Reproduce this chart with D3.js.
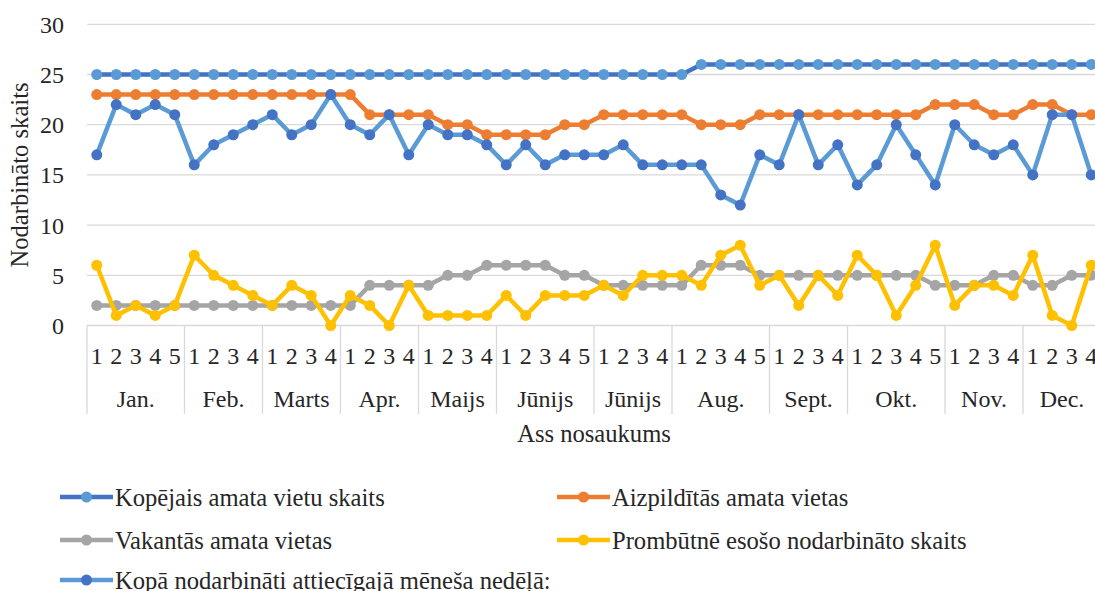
<!DOCTYPE html>
<html>
<head>
<meta charset="utf-8">
<script src="https://cdn.jsdelivr.net/npm/d3@7"></script>
<style>
  body { margin: 0; background: #fff; overflow: hidden; }
</style>
</head>
<body>
<div id="chart"></div>
<script>
// months and how many weeks each one has on the axis
var months = ["Jan.", "Feb.", "Marts", "Apr.", "Maijs", "Jūnijs", "Jūnijs", "Aug.", "Sept.", "Okt.", "Nov.", "Dec."];
var weeksPerMonth = [5, 4, 4, 4, 4, 5, 4, 5, 4, 5, 4, 4];
var yTicks = [0, 5, 10, 15, 20, 25, 30];

var seriesNames = [
    "Kopējais amata vietu skaits",
    "Aizpildītās amata vietas",
    "Vakantās amata vietas",
    "Prombūtnē esošo nodarbināto skaits",
    "Kopā nodarbināti attiecīgajā mēneša nedēļā:"
];

var kopejais = [25,25,25,25,25, 25,25,25,25, 25,25,25,25, 25,25,25,25, 25,25,25,25, 25,25,25,25,25, 25,25,25,25,
                25,26,26,26,26, 26,26,26,26, 26,26,26,26,26, 26,26,26,26, 26,26,26,26];
var aizpilditas = [23,23,23,23,23, 23,23,23,23, 23,23,23,23, 23,21,21,21, 21,20,20,19, 19,19,19,20,20, 21,21,21,21,
                   21,20,20,20,21, 21,21,21,21, 21,21,21,21,22, 22,22,21,21, 22,22,21,21];
var vakantas = [2,2,2,2,2, 2,2,2,2, 2,2,2,2, 2,4,4,4, 4,5,5,6, 6,6,6,5,5, 4,4,4,4,
                4,6,6,6,5, 5,5,5,5, 5,5,5,5,4, 4,4,5,5, 4,4,5,5];
var prombutne = [6,1,2,1,2, 7,5,4,3, 2,4,3,0, 3,2,0,4, 1,1,1,1, 3,1,3,3,3, 4,3,5,5,
                 5,4,7,8,4, 5,2,5,3, 7,5,1,4,8, 2,4,4,3, 7,1,0,6];
var kopaNodarbinati = [17,22,21,22,21, 16,18,19,20, 21,19,20,23, 20,19,21,17, 20,19,19,18, 16,18,16,17,17, 17,18,16,16,
                       16,16,13,12,17, 16,21,16,18, 14,16,20,17,14, 20,18,17,18, 15,21,21,15];

var lineColors   = ["#4472C4", "#ED7D31", "#A5A5A5", "#FFC000", "#5B9BD5"];
var markerColors = ["#5B9BD5", "#ED7D31", "#A5A5A5", "#FFC000", "#4472C4"];

var allSeries = [kopejais, aizpilditas, vakantas, prombutne, kopaNodarbinati];

var fontFamily = "'Liberation Serif', 'Times New Roman', 'DejaVu Serif', serif";
var fontSize = "24px";
var legendFontSize = "24.6px";

// week labels built from the month list
var weeks = [];
weeksPerMonth.forEach(function(n, m){
    for (var w = 1; w <= n; w++) weeks.push({month: m, week: w});
});

var width = 1095, height = 591;
var plotLeft = 87, plotTop = 24.3, plotBottom = 325.5;
var band = 19.5;

var svg = d3.select("#chart").append("svg")
    .attr("width", width)
    .attr("height", height)
    .attr("font-family", fontFamily)
    .style("font-family", fontFamily);

var x = d3.scaleBand()
    .domain(d3.range(weeks.length))
    .range([plotLeft, plotLeft + band * weeks.length])
    .paddingInner(0).paddingOuter(0);

var y = d3.scaleLinear()
    .domain([0, 30])
    .range([plotBottom, plotTop]);

// gridlines
svg.append("g").selectAll("line").data(yTicks).enter().append("line")
    .attr("x1", plotLeft).attr("x2", width)
    .attr("y1", function(d){ return y(d); })
    .attr("y2", function(d){ return y(d); })
    .attr("stroke", "#D9D9D9")
    .attr("stroke-width", 1.3);

// y tick labels
svg.append("g").selectAll("text").data(yTicks).enter().append("text")
    .attr("x", 64)
    .attr("y", function(d){ return y(d); })
    .attr("dy", "0.35em")
    .attr("text-anchor", "end")
    .attr("fill", "#262626")
    .style("font-size", fontSize)
    .text(function(d){ return d; });

// y axis title
svg.append("text")
    .attr("transform", "translate(28," + 175 + ") rotate(-90)")
    .attr("text-anchor", "middle")
    .attr("fill", "#262626")
    .style("font-size", legendFontSize)
    .text("Nodarbināto skaits");

// month separators (multi-level category axis)
var starts = [0];
weeksPerMonth.forEach(function(n, i){ starts.push(starts[i] + n); });
svg.append("g").selectAll("line").data(starts).enter().append("line")
    .attr("x1", function(d){ return plotLeft + d * band; })
    .attr("x2", function(d){ return plotLeft + d * band; })
    .attr("y1", plotBottom)
    .attr("y2", 414)
    .attr("stroke", "#D9D9D9")
    .attr("stroke-width", 1.3);

// week numbers
svg.append("g").selectAll("text").data(weeks).enter().append("text")
    .attr("x", function(d, i){ return x(i) + x.bandwidth() / 2; })
    .attr("y", 356)
    .attr("dy", "0.35em")
    .attr("text-anchor", "middle")
    .attr("fill", "#262626")
    .style("font-size", fontSize)
    .text(function(d){ return d.week; });

// month names
svg.append("g").selectAll("text").data(months).enter().append("text")
    .attr("x", function(d, i){ return plotLeft + (starts[i] + weeksPerMonth[i] / 2) * band; })
    .attr("y", 399)
    .attr("dy", "0.35em")
    .attr("text-anchor", "middle")
    .attr("fill", "#262626")
    .style("font-size", fontSize)
    .text(function(d){ return d; });

// x axis title
svg.append("text")
    .attr("x", 594)
    .attr("y", 433)
    .attr("dy", "0.35em")
    .attr("text-anchor", "middle")
    .attr("fill", "#262626")
    .style("font-size", legendFontSize)
    .text("Ass nosaukums");

// lines and markers
var line = d3.line()
    .x(function(d, i){ return x(i) + x.bandwidth() / 2; })
    .y(function(d){ return y(d); });

allSeries.forEach(function(values, s){
    var g = svg.append("g");
    g.append("path")
        .datum(values)
        .attr("d", line)
        .attr("fill", "none")
        .attr("stroke", lineColors[s])
        .attr("stroke-width", 4.5)
        .attr("stroke-linejoin", "round");
    g.selectAll("circle").data(values).enter().append("circle")
        .attr("cx", function(d, i){ return x(i) + x.bandwidth() / 2; })
        .attr("cy", function(d){ return y(d); })
        .attr("r", 5.5)
        .attr("fill", markerColors[s]);
});

// legend
var legendPos = [
    {x: 60, y: 497}, {x: 557, y: 497},
    {x: 60, y: 540}, {x: 557, y: 540},
    {x: 60, y: 580}
];
var legend = svg.append("g").selectAll("g").data(seriesNames).enter().append("g")
    .attr("transform", function(d, i){ return "translate(" + legendPos[i].x + "," + legendPos[i].y + ")"; });
legend.append("line")
    .attr("x1", 0).attr("x2", 53)
    .attr("stroke", function(d, i){ return lineColors[i]; })
    .attr("stroke-width", 4.5);
legend.append("circle")
    .attr("cx", 26.5).attr("r", 5.5)
    .attr("fill", function(d, i){ return markerColors[i]; });
legend.append("text")
    .attr("x", 55)
    .attr("dy", "0.35em")
    .attr("fill", "#262626")
    .style("font-size", legendFontSize)
    .text(function(d){ return d; });
</script>
</body>
</html>
